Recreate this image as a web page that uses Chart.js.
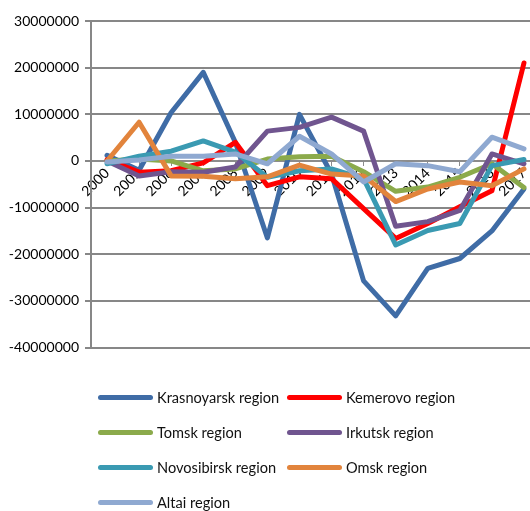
<!DOCTYPE html>
<html>
<head>
<meta charset="utf-8">
<script src="https://cdn.jsdelivr.net/npm/chart.js@4.4.1/dist/chart.umd.min.js"></script>
<style>
  html, body { margin: 0; padding: 0; background: #fff; overflow: hidden; }
  body { width: 530px; height: 511px; position: relative; font-family: Lato, "Open Sans", sans-serif; }
  #wrap { position: absolute; left: 0; top: 0; width: 545px; height: 362px; }
  #legend { position: absolute; left: 0; top: 0; width: 530px; height: 511px; pointer-events: none; }
  .item { position: absolute; height: 20px; display: flex; align-items: center; font-size: 14.6px; color: #111; }
  .item span.line { display: inline-block; width: 55px; height: 5px; border-radius: 3px; margin-right: 4px; }
</style>
</head>
<body>
<div id="wrap"><canvas id="myChart"></canvas></div>
<div id="legend"></div>
<script>
const years = ["2000", "2005", "2006", "2007", "2008", "2009", "2010", "2011", "2012", "2013", "2014", "2015", "2016", "2017"];
const yTicks = [-40000000, -30000000, -20000000, -10000000, 0, 10000000, 20000000, 30000000];

const krasnoyarsk = [1200000, -2000000, 10400000, 19000000, 4000000, -16500000, 10000000, -2800000, -25700000, -33200000, -23000000, -20900000, -15000000, -6000000];
const kemerovo = [300000, -2400000, -2100000, -400000, 4000000, -5300000, -3400000, -3800000, -10200000, -16600000, -13400000, -9800000, -6400000, 21000000];
const tomsk = [0, 400000, 0, -2100000, -1700000, 400000, 900000, 1000000, -2300000, -6500000, -5600000, -3500000, -600000, -5700000];
const irkutsk = [0, -3200000, -2300000, -2400000, -1300000, 6400000, 7200000, 9400000, 6400000, -14000000, -13000000, -10600000, 1500000, -600000];
const novosibirsk = [-600000, 1000000, 2100000, 4300000, 1900000, -3500000, -2100000, -1700000, -3800000, -18000000, -14900000, -13400000, -1000000, 300000];
const omsk = [0, 8300000, -3200000, -3300000, -3800000, -3400000, -900000, -2800000, -3200000, -8700000, -6000000, -4500000, -5300000, -1700000];
const altai = [-200000, 200000, 1000000, 1000000, 1500000, -600000, 5300000, 1500000, -4500000, -600000, -1000000, -2300000, 5100000, 2600000];

const seriesNames = ["Krasnoyarsk region", "Kemerovo region", "Tomsk region", "Irkutsk region", "Novosibirsk region", "Omsk region", "Altai region"];
const seriesData = [krasnoyarsk, kemerovo, tomsk, irkutsk, novosibirsk, omsk, altai];
const seriesColors = ["#3F6CA6", "#FF0000", "#8BAA4B", "#70558F", "#3A9AB2", "#E2843C", "#8FA9D1"];

const datasets = seriesNames.map((name, i) => ({
  label: name,
  data: seriesData[i],
  borderColor: seriesColors[i],
  backgroundColor: seriesColors[i],
  borderWidth: 5,
  pointRadius: 0,
  tension: 0,
  borderJoinStyle: "round",
  borderCapStyle: "round",
  order: seriesNames.length - i, // last series on top, like Excel
}));

const tickFont = { family: "Lato", size: 14 };

new Chart(document.getElementById("myChart"), {
  type: "line",
  data: { labels: years, datasets: datasets },
  options: {
    responsive: true,
    maintainAspectRatio: false,
    animation: false,
    layout: { padding: { top: 21, right: 5, bottom: 9, left: 0 } },
    plugins: {
      legend: { display: false },
      tooltip: { enabled: false },
    },
    scales: {
      x: {
        position: { y: 0 },
        offset: true,
        grid: { display: true, drawOnChartArea: false, drawTicks: true, tickLength: 4, color: "#8c8c8c", lineWidth: 1 },
        border: { display: true, color: "#8c8c8c", width: 2 },
        ticks: { color: "#000", font: tickFont, minRotation: 45, maxRotation: 45, padding: 0, autoSkip: false },
      },
      y: {
        min: -40000000,
        max: 30000000,
        afterFit: (scale) => { scale.width = 91; },
        afterBuildTicks: (scale) => { scale.ticks = yTicks.map((v) => ({ value: v })); },
        grid: { color: "#878787", lineWidth: 2, tickLength: 6 },
        border: { display: true, color: "#878787", width: 2 },
        ticks: { color: "#000", font: tickFont, padding: 6, callback: (v) => String(v) },
      },
    },
  },
});

// legend in two columns under the plot
const legend = document.getElementById("legend");
const rowY = [397, 432, 467, 502];
const colX = [98, 287];
seriesNames.forEach((name, i) => {
  const el = document.createElement("div");
  el.className = "item";
  el.style.left = colX[i % 2] + "px";
  el.style.top = (rowY[Math.floor(i / 2)] - 10) + "px";
  el.innerHTML = `<span class="line" style="background:${seriesColors[i]}"></span>${name}`;
  legend.appendChild(el);
});
</script>
</body>
</html>
